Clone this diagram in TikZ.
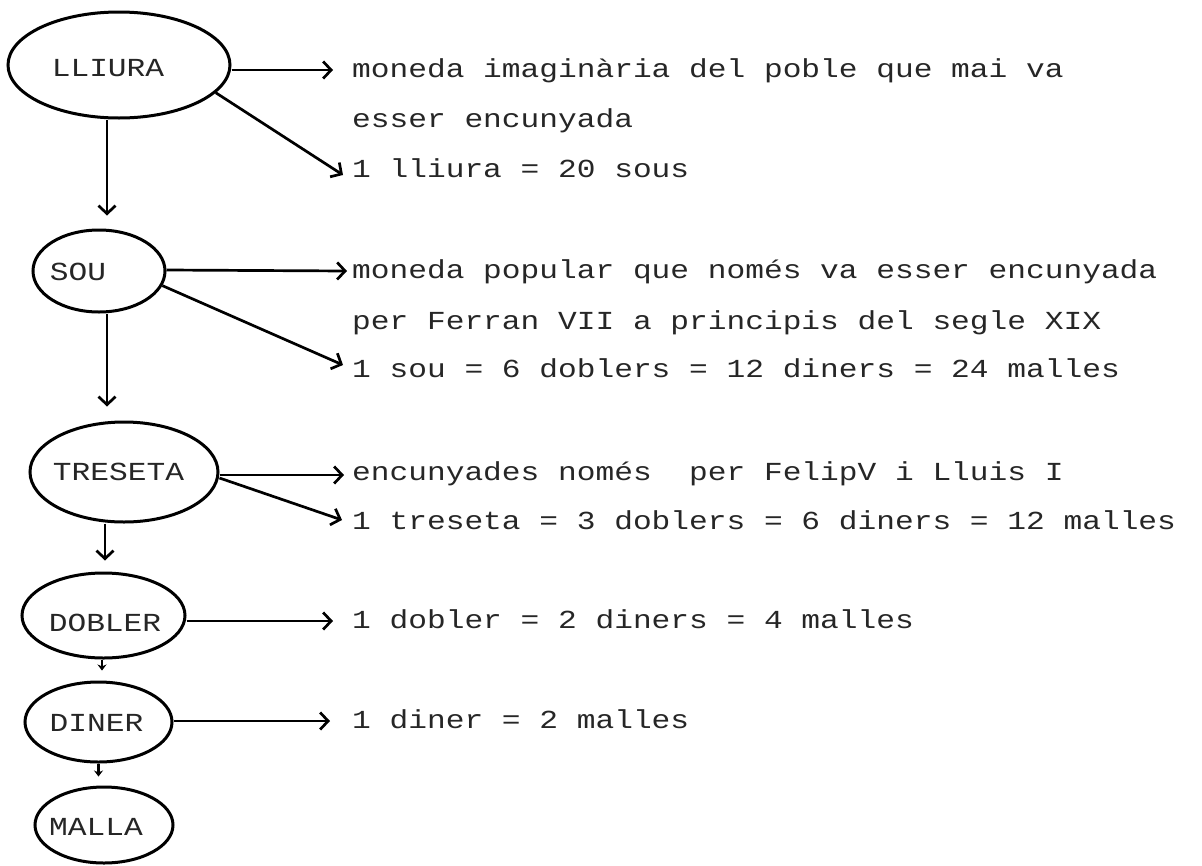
\documentclass[tikz,border=0pt]{standalone}
\usepackage{fontspec}
\newfontfamily\dotfont{Liberation Mono}[FakeStretch=1.2]
\usetikzlibrary{arrows.meta,shapes.geometric}
\begin{document}
\begin{tikzpicture}[x=1pt,y=-1pt,
  ell/.style={draw, ellipse, line width=3pt, inner sep=0pt},
  lab/.style={anchor=base, inner sep=0pt, font=\dotfont\fontsize{26}{30}\selectfont, text=black!85},
  txt/.style={anchor=base west, inner sep=0pt, font=\dotfont\fontsize{26}{30}\selectfont, text=black!85},
  arr/.style={line width=2.7pt, -{Straight Barb[length=8pt,width=17pt]}},
  sarr/.style={line width=2.5pt, -{Stealth[length=6pt,width=9pt]}}]
\useasboundingbox (0,0) rectangle (1202,865);
% ellipses
\node[ell, minimum width=222pt, minimum height=106pt] (lliura) at (119,65) {};
\node[ell, minimum width=132pt, minimum height=82pt] (sou) at (99,271) {};
\node[ell, minimum width=188pt, minimum height=100pt] (treseta) at (124,472) {};
\node[ell, minimum width=163pt, minimum height=85pt] (dobler) at (103.5,615.5) {};
\node[ell, minimum width=147pt, minimum height=80pt] (diner) at (98.5,722) {};
\node[ell, minimum width=138pt, minimum height=76pt] (malla) at (104,825) {};
% labels
\node[lab] (lliuraT) at (108,76) {LLIURA};
\node[lab] (souT) at (78,280) {SOU};
\node[lab] (tresetaT) at (118.5,480) {TRESETA};
\node[lab] (doblerT) at (105,631) {DOBLER};
\node[lab] (dinerT) at (96.5,731) {DINER};
\node[lab] (mallaT) at (96,835) {MALLA};
% texts
\node[txt] (a1) at (352,77) {moneda imaginària del poble que mai va};
\node[txt] (a2) at (352,127) {esser encunyada};
\node[txt] (a3) at (352,177) {1 lliura = 20 sous};
\node[txt] (b1) at (352,278) {moneda popular que només va esser encunyada};
\node[txt] (b2) at (352,329) {per Ferran VII a principis del segle XIX};
\node[txt] (b3) at (352,377) {1 sou = 6 doblers = 12 diners = 24 malles};
\node[txt] (c1) at (352,480) {encunyades només\ \ per FelipV i Lluis I};
\node[txt] (c2) at (352,529) {1 treseta = 3 doblers = 6 diners = 12 malles};
\node[txt] (d1) at (352,628) {1 dobler = 2 diners = 4 malles};
\node[txt] (e1) at (352,728) {1 diner = 2 malles};
% horizontal / diagonal arrows
\draw[arr] ([yshift=-5pt]lliura.east) -- ([xshift=-19pt,yshift=7pt]a1.base west);
\draw[arr] (lliura.-16) -- ([xshift=-9pt,yshift=2pt]a3.base west);
\draw[arr] ([yshift=1pt]sou.east) -- ([xshift=-5pt,yshift=7pt]b1.base west);
\draw[arr] (sou.-13) -- ([xshift=-9pt,yshift=12pt]b3.base west);
\draw[arr] ([yshift=-3pt]treseta.east) -- ([xshift=-8pt,yshift=5pt]c1.base west);
\draw[arr] ([yshift=-6pt]treseta.east) -- ([xshift=-10pt,yshift=9pt]c2.base west);
\draw[arr] ([yshift=-5.5pt]dobler.east) -- ([xshift=-19pt,yshift=7pt]d1.base west);
\draw[arr] ([yshift=1pt]diner.east) -- ([xshift=-22pt,yshift=7pt]e1.base west);
% vertical arrows
\draw[arr, shorten >=13pt] ([xshift=-12pt]lliura.south) -- ([xshift=-12pt]lliura.south |- sou.north);
\draw[arr, shorten >=14pt] ([xshift=8pt]sou.south) -- ([xshift=8pt]sou.south |- treseta.north);
\draw[arr, shorten >=11pt] ([xshift=-19pt]treseta.south) -- ([xshift=-19pt]treseta.south |- dobler.north);
\draw[sarr, shorten >=10pt] ([xshift=-1.5pt]dobler.south) -- ([xshift=-1.5pt]dobler.south |- diner.north);
\draw[sarr, shorten >=9pt] (diner.south) -- (diner.south |- malla.north);
\end{tikzpicture}
\end{document}
